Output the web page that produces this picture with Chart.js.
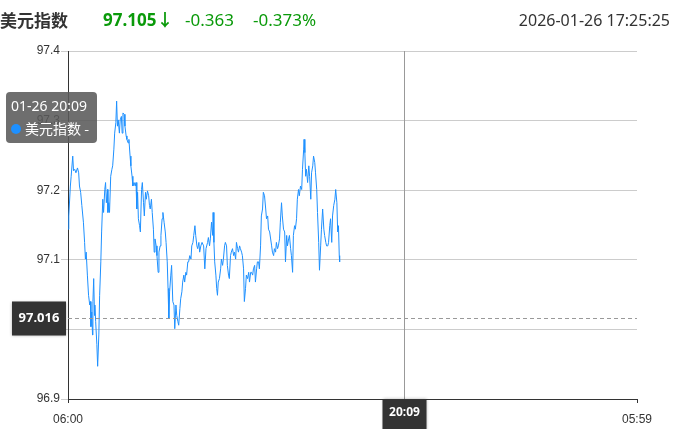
<!DOCTYPE html>
<html>
<head>
<meta charset="utf-8">
<script src="https://cdn.jsdelivr.net/npm/chart.js@4.4.1/dist/chart.umd.min.js"></script>
<style>
  body { margin: 0; background: #fff; font-family: "Noto Sans", "Noto Sans CJK SC", sans-serif; }
  #wrap { position: relative; width: 675px; height: 429px; overflow: hidden; }
  #chart { position: absolute; left: 0; top: 0; }
  .hd { position: absolute; top: 8px; white-space: nowrap; font-size: 17px; line-height: 24px; }
  .green { color: #0a9a0a; }
</style>
</head>
<body>
<div id="wrap">
  <canvas id="chart" width="675" height="429"></canvas>
  <div class="hd" style="left:0;font-weight:bold;color:#333;font-family:'Noto Sans CJK SC',sans-serif">美元指数</div>
  <div class="hd green" style="left:103px;font-weight:bold">97.105↓</div>
  <div class="hd green" style="left:185px">-0.363</div>
  <div class="hd green" style="left:253px">-0.373%</div>
  <div class="hd" style="right:5px;color:#333;font-size:16px">2026-01-26 17:25:25</div>
</div>
<script>
// 分钟数（从 06:00 开始）和对应的美元指数
const minutes = [
  0, 2, 6, 8, 12, 14, 17, 20, 24, 27, 29, 32, 35, 39, 42, 44, 46, 49, 52, 55,
  57, 58, 60, 62, 63, 65, 67, 68, 70, 73, 75, 78, 80, 83, 85, 88, 90, 93, 95, 97,
  100, 101, 103, 105, 108, 111, 113, 116, 118, 121, 123, 125, 127, 130, 132, 135, 137, 139, 142, 144,
  147, 149, 152, 154, 157,
  159, 162, 164, 167, 170, 172, 174, 176, 178, 181, 183, 186, 188, 191, 193, 196, 198, 201, 204, 206,
  208, 211, 213, 216, 218, 220, 223, 225, 228, 230, 233, 235, 238, 240, 243, 246, 248, 251, 253, 255,
  257, 260, 262, 265, 268, 270, 273, 275, 278, 280, 283, 285, 288, 290, 293, 295, 298, 300, 303, 305,
  308, 311, 313, 316, 318, 321, 323, 326, 328, 331,
  333, 336, 339, 343, 346, 349, 353, 355, 358, 360, 363, 366, 367, 369, 371, 374, 376, 378, 380, 383,
  386, 388, 391, 393, 396, 398, 401, 403, 406, 408, 411, 413, 416, 419, 421, 424, 426, 429, 431, 434,
  436, 439, 441, 444, 446, 449, 451, 454, 457, 459, 462, 464, 467, 469, 472, 474, 477, 479, 482, 484,
  487, 489, 492, 494, 497, 500, 502, 505, 507, 510,
  515, 517, 520, 522, 525, 527, 530, 532, 535, 537, 540, 542, 545, 548, 550, 553, 555, 558, 560, 563,
  565, 568, 570, 573, 575, 578, 580, 583, 585, 588, 591, 593, 596, 597, 599, 601, 603, 606, 609, 611,
  614, 616, 619, 621, 624, 626, 629, 631, 634, 636, 639, 641, 644, 647, 649, 652, 654, 657, 659, 662,
  664, 667, 669, 672, 675, 677, 680, 682, 684, 686, 687
];
const values = [
  97.144, 97.163, 97.206, 97.220, 97.249, 97.228, 97.230, 97.225, 97.232, 97.225, 97.206, 97.197, 97.178, 97.154, 97.125, 97.101, 97.111, 97.078, 97.049, 97.035,
  97.040, 97.004, 97.025, 96.992, 97.040, 97.073, 97.020, 97.035, 97.011, 96.978, 96.947, 96.992, 97.049, 97.097, 97.140, 97.187, 97.168, 97.201, 97.211, 97.182,
  97.201, 97.168, 97.182, 97.168, 97.220, 97.230, 97.235, 97.259, 97.282, 97.297, 97.328, 97.292, 97.301, 97.282, 97.301, 97.306, 97.282, 97.311, 97.309, 97.292,
  97.278, 97.273, 97.268, 97.273, 97.249,
  97.235, 97.220, 97.206, 97.211, 97.206, 97.211, 97.173, 97.197, 97.159, 97.149, 97.140, 97.201, 97.211, 97.182, 97.163, 97.197, 97.187, 97.199, 97.192, 97.178,
  97.173, 97.187, 97.168, 97.144, 97.111, 97.130, 97.120, 97.106, 97.082, 97.111, 97.120, 97.135, 97.159, 97.168, 97.154, 97.140, 97.125, 97.097, 97.059, 97.016,
  97.054, 97.078, 97.092, 97.040, 97.035, 97.001, 97.035, 97.020, 97.011, 97.006, 97.030, 97.044, 97.054, 97.068, 97.078, 97.068, 97.082, 97.078, 97.097, 97.097,
  97.106, 97.101, 97.120, 97.125, 97.135, 97.149, 97.135, 97.120, 97.116, 97.125,
  97.111, 97.120, 97.125, 97.120, 97.087, 97.116, 97.125, 97.132, 97.120, 97.130, 97.154, 97.135, 97.168, 97.125, 97.097, 97.078, 97.059, 97.049, 97.068, 97.073,
  97.087, 97.101, 97.092, 97.101, 97.120, 97.125, 97.120, 97.092, 97.078, 97.073, 97.106, 97.111, 97.116, 97.106, 97.111, 97.101, 97.125, 97.116, 97.111, 97.120,
  97.116, 97.111, 97.106, 97.087, 97.040, 97.059, 97.078, 97.073, 97.082, 97.068, 97.082, 97.082, 97.078, 97.087, 97.092, 97.068, 97.087, 97.097, 97.097, 97.087,
  97.120, 97.163, 97.173, 97.197, 97.192, 97.173, 97.159, 97.163, 97.144, 97.140,
  97.120, 97.111, 97.106, 97.116, 97.111, 97.125, 97.116, 97.120, 97.130, 97.154, 97.182, 97.163, 97.144, 97.140, 97.097, 97.135, 97.120, 97.130, 97.135, 97.116,
  97.106, 97.082, 97.135, 97.149, 97.144, 97.159, 97.187, 97.201, 97.192, 97.206, 97.201, 97.230, 97.259, 97.273, 97.254, 97.220, 97.230, 97.211, 97.235, 97.220,
  97.187, 97.225, 97.235, 97.249, 97.240, 97.225, 97.201, 97.168, 97.125, 97.085, 97.120, 97.144, 97.173, 97.144, 97.135, 97.125, 97.120, 97.120, 97.125, 97.149,
  97.159, 97.125, 97.163, 97.178, 97.187, 97.201, 97.182, 97.140, 97.149, 97.106, 97.097
];
const xTicks = [0, 1439];           // 06:00 和 05:59
const yTicks = [96.9, 97.0, 97.1, 97.2, 97.3, 97.4];
const crossMinute = 849;            // 十字线：20:09
const crossValue = 97.016;
const seriesName = '美元指数';
const tipDate = '01-26';

function toTime(m) {
  const t = (360 + m) % 1440;
  return String(Math.floor(t / 60)).padStart(2, '0') + ':' + String(t % 60).padStart(2, '0');
}

const points = minutes.map((m, i) => ({ x: m, y: values[i] }));
const lineColor = '#1e90ff';

// 十字线、标签和提示框
const overlay = {
  id: 'overlay',
  afterDatasetsDraw(chart) {
    const { ctx, chartArea: a, scales: { x, y } } = chart;
    const cx = Math.round(x.getPixelForValue(crossMinute)) + 0.5;
    const cy = Math.round(y.getPixelForValue(crossValue)) + 0.5;
    ctx.save();
    ctx.strokeStyle = '#999';
    ctx.lineWidth = 1;
    ctx.beginPath(); ctx.moveTo(cx, a.top); ctx.lineTo(cx, a.bottom); ctx.stroke();
    ctx.setLineDash([4, 3]);
    ctx.beginPath(); ctx.moveTo(a.left, cy); ctx.lineTo(a.right, cy); ctx.stroke();
    ctx.setLineDash([]);

    // 左侧价格标签
    ctx.shadowColor = 'rgba(0,0,0,0.3)';
    ctx.shadowBlur = 3;
    ctx.fillStyle = '#333';
    ctx.fillRect(12, cy - 17, 54, 34);
    // 底部时间标签
    ctx.fillRect(cx - 22, a.bottom, 44, 32);
    ctx.shadowBlur = 0;
    ctx.fillStyle = '#fff';
    ctx.font = 'bold 13px "Noto Sans", sans-serif';
    ctx.textAlign = 'center';
    ctx.textBaseline = 'middle';
    ctx.fillText(crossValue.toFixed(3), 39, cy);
    ctx.font = 'bold 12px "Noto Sans", sans-serif';
    ctx.fillText(toTime(crossMinute), cx, a.bottom + 14);

    // 提示框
    ctx.fillStyle = 'rgba(90,90,90,0.88)';
    ctx.beginPath();
    ctx.roundRect(6, 92, 91, 51, 4);
    ctx.fill();
    ctx.fillStyle = '#fff';
    ctx.textAlign = 'left';
    ctx.font = '14px "Noto Sans", "Noto Sans CJK SC", sans-serif';
    ctx.fillText(tipDate + ' ' + toTime(crossMinute), 11, 107);
    ctx.fillStyle = lineColor;
    ctx.beginPath(); ctx.arc(16, 129, 5, 0, Math.PI * 2); ctx.fill();
    ctx.fillStyle = '#fff';
    ctx.font = '14px "Noto Sans CJK SC", sans-serif';
    ctx.fillText(seriesName + ' -', 25, 129);
    ctx.restore();
  }
};

new Chart(document.getElementById('chart'), {
  type: 'line',
  data: {
    datasets: [{
      label: seriesName,
      data: points,
      borderColor: lineColor,
      borderWidth: 1,
      pointRadius: 0,
      tension: 0,
      fill: false
    }]
  },
  options: {
    responsive: false,
    animation: false,
    layout: { padding: { top: 51, right: 38, left: 0, bottom: 0 } },
    plugins: { legend: { display: false }, tooltip: { enabled: false } },
    scales: {
      x: {
        type: 'linear',
        min: 0,
        max: 1439,
        afterBuildTicks: s => { s.ticks = xTicks.map(v => ({ value: v })); },
        afterFit: s => { s.height = 30; },
        grid: { drawOnChartArea: false, drawTicks: true, tickLength: 4, color: '#333' },
        border: { color: '#333' },
        ticks: { color: '#333', font: { size: 12 }, padding: 9, maxRotation: 0, callback: v => toTime(v) }
      },
      y: {
        min: 96.9,
        max: 97.4,
        afterBuildTicks: s => { s.ticks = yTicks.map(v => ({ value: v })); },
        afterFit: s => { s.width = 68; },
        grid: { color: '#ccc', tickLength: 7 },
        border: { color: '#333' },
        ticks: { color: '#333', font: { size: 12 }, padding: 1, callback: v => v.toFixed(1) }
      }
    }
  },
  plugins: [overlay]
});
</script>
</body>
</html>
